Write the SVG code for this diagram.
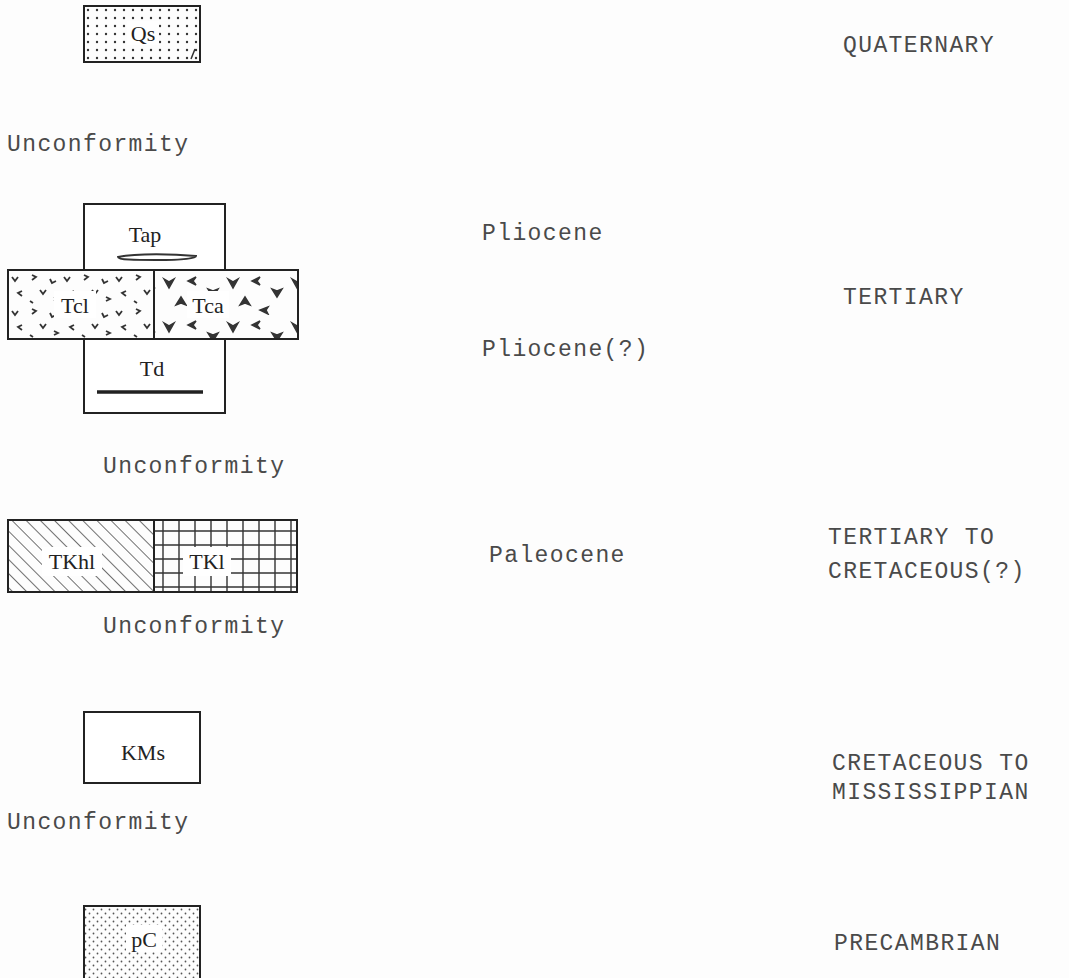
<svg xmlns="http://www.w3.org/2000/svg" width="1069" height="978" viewBox="0 0 1069 978">
<style>
.t{font-family:"Liberation Mono","DejaVu Sans Mono",monospace;font-size:23px;fill:#4a4a4a;letter-spacing:1.4px}
.l{font-family:"Liberation Serif","Times New Roman",serif;font-size:22px;fill:#222;text-anchor:middle}
.b{stroke:#222;stroke-width:2}
.lb{fill:#fff}
</style>
<defs>
<pattern id="dots" width="9" height="8" patternUnits="userSpaceOnUse" x="86" y="8">
<circle cx="2" cy="2" r="1.2" fill="#333"/>
</pattern>
<pattern id="stip" width="8" height="8" patternUnits="userSpaceOnUse">
<circle cx="1.5" cy="1.5" r="0.9" fill="#555"/>
<circle cx="5.5" cy="5.5" r="0.9" fill="#555"/>
</pattern>
<pattern id="hatch" width="10" height="10" patternUnits="userSpaceOnUse" patternTransform="rotate(-45)">
<line x1="0" y1="0" x2="0" y2="10" stroke="#333" stroke-width="1.4"/>
</pattern>
<pattern id="grid" width="16" height="14" patternUnits="userSpaceOnUse" x="155" y="524">
<path d="M8 0V14M0 7H16" stroke="#333" stroke-width="1.4" fill="none"/>
</pattern>
<pattern id="tcl" width="52" height="34" patternUnits="userSpaceOnUse" x="8" y="271">
<g fill="none" stroke="#333" stroke-width="1.8">
<path d="M4 6l3 4l3-4"/><path d="M24 4l4 2l-4 3"/><path d="M42 8l2 4l4-2"/>
<path d="M14 20l-4 2l4 3"/><path d="M32 19l3 4l3-4"/><path d="M46 26l4 2l-4 2"/>
<path d="M22 30l3 2"/>
</g>
</pattern>
<pattern id="tca" width="64" height="44" patternUnits="userSpaceOnUse" x="156" y="271">
<g fill="#333" stroke="#333" stroke-width="1.5">
<path d="M8 8l5 9l5-9l-5 3z"/><path d="M40 6l-8 4l8 4l-3-4z"/>
<path d="M52 18l5 8l5-8l-5 2z"/><path d="M20 34l5-8l5 8l-5-2z"/>
<path d="M48 36l-8 3l8 4l-2-4z"/>
</g>
</pattern>
</defs>
<rect width="1069" height="978" fill="#fdfdfd"/>

<g id="connectors"></g>

<g id="node-Qs">
<rect x="84" y="6" width="116" height="56" fill="url(#dots)" class="b"/>
<rect x="127" y="21" width="32" height="24" class="lb"/>
<text x="143" y="41" class="l">Qs</text>
<path d="M195 49l-4 10" stroke="#333" stroke-width="1.5"/>
</g>
<text x="843" y="52" class="t">QUATERNARY</text>
<text x="7" y="151" class="t">Unconformity</text>

<g id="node-Tap">
<rect x="84" y="204" width="141" height="66" fill="#fff" class="b"/>
<rect x="123" y="219" width="46" height="27" class="lb"/>
<text x="145" y="242" class="l">Tap</text>
<path d="M118 257c20-4 56-3 78-1c0 3-20 4-40 4c-20 0-38 0-38-3z" fill="none" stroke="#333" stroke-width="2"/>
</g>
<g id="node-Tcl">
<rect x="8" y="270" width="146" height="69" fill="url(#tcl)" class="b"/>
<rect x="54" y="291" width="42" height="27" class="lb"/>
<text x="75" y="313" class="l">Tcl</text>
</g>
<g id="node-Tca">
<rect x="154" y="270" width="144" height="69" fill="url(#tca)" class="b"/>
<rect x="187" y="291" width="42" height="27" class="lb"/>
<text x="208" y="313" class="l">Tca</text>
</g>
<g id="node-Td">
<rect x="84" y="339" width="141" height="74" fill="#fff" class="b"/>
<text x="152" y="376" class="l">Td</text>
<line x1="97" y1="392" x2="203" y2="392" stroke="#222" stroke-width="3.5"/>
</g>
<text x="482" y="240" class="t">Pliocene</text>
<text x="843" y="304" class="t">TERTIARY</text>
<text x="482" y="356" class="t">Pliocene(?)</text>
<text x="103" y="473" class="t">Unconformity</text>

<g id="node-TKhl">
<rect x="8" y="520" width="146" height="72" fill="url(#hatch)" class="b"/>
<rect x="42" y="547" width="60" height="29" class="lb"/>
<text x="72" y="569" class="l">TKhl</text>
</g>
<g id="node-TKl">
<rect x="154" y="520" width="143" height="72" fill="url(#grid)" class="b"/>
<rect x="183" y="547" width="48" height="29" class="lb"/>
<text x="207" y="569" class="l">TKl</text>
</g>
<text x="489" y="562" class="t">Paleocene</text>
<text x="828" y="544" class="t">TERTIARY TO</text>
<text x="828" y="578" class="t">CRETACEOUS(?)</text>
<text x="103" y="633" class="t">Unconformity</text>

<g id="node-KMs">
<rect x="84" y="712" width="116" height="71" fill="#fff" class="b"/>
<text x="143" y="760" class="l">KMs</text>
</g>
<text x="832" y="770" class="t">CRETACEOUS TO</text>
<text x="832" y="799" class="t">MISSISSIPPIAN</text>
<text x="7" y="829" class="t">Unconformity</text>

<g id="node-pC">
<rect x="84" y="906" width="116" height="75" fill="url(#stip)" class="b"/>
<rect x="126" y="925" width="36" height="27" class="lb"/>
<text x="144" y="947" class="l">pC</text>
</g>
<text x="834" y="950" class="t">PRECAMBRIAN</text>
</svg>
